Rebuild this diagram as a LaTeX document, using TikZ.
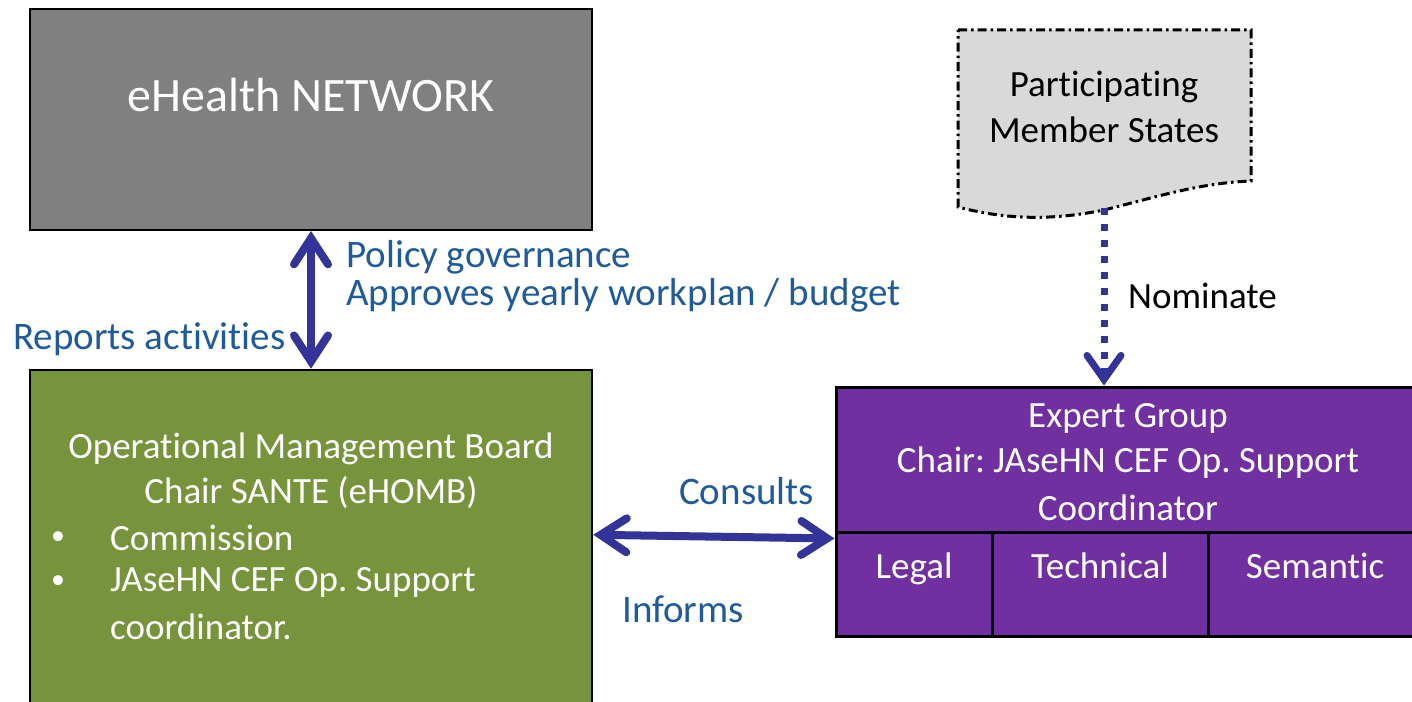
\documentclass[tikz,border=0pt]{standalone}
\usepackage{fontspec}
\setmainfont{Carlito}[Ligatures=NoCommon]
\frenchspacing
\usetikzlibrary{arrows.meta}

\definecolor{netgrey}{RGB}{128,128,128}
\definecolor{boardgreen}{RGB}{119,147,60}
\definecolor{expertpurple}{RGB}{112,48,160}
\definecolor{docgrey}{RGB}{217,217,217}
\definecolor{arrowblue}{RGB}{51,51,153}
\definecolor{labelblue}{RGB}{31,90,155}

\tikzset{
  box/.style={draw=black, rectangle, inner sep=0pt},
  boxtext/.style={text=white, inner sep=0pt, font=\fontsize{37}{44}\selectfont},
  bulletmark/.style={text=white, inner sep=0pt, font=\fontsize{28}{34}\selectfont},
  bluelabel/.style={text=labelblue, inner sep=0pt, anchor=west, font=\fontsize{39}{46}\selectfont},
  twoway/.style={draw=arrowblue, line width=8pt, {Straight Barb[length=26pt, width=34pt, line cap=round, line join=miter]}-{Straight Barb[length=26pt, width=34pt, line cap=round, line join=miter]}},
  nominatearrow/.style={draw=arrowblue, line width=7pt, dash pattern=on 7pt off 9pt, -{Straight Barb[length=24pt, width=34pt, line cap=round, line join=miter]}}
}

\begin{document}
\begin{tikzpicture}[x=1pt, y=-1pt]
\useasboundingbox (0,0) rectangle (1412,701);
\clip (0,0) rectangle (1412,701);

% eHealth network
\node[box, fill=netgrey, line width=2pt, minimum width=562pt, minimum height=221pt] (network) at (311,119.5) {};
\node[text=white, inner sep=0pt, font=\fontsize{48}{56}\selectfont] (networktext) at (311,95) {eHealth NETWORK};

% Operational management board
\node[box, fill=boardgreen, line width=2.5pt, minimum width=562pt, minimum height=360pt] (board) at (311,550) {};
\node[boxtext] (boardl1) at (311,449) {Operational Management Board};
\node[boxtext] (boardl2) at (311,493) {Chair SANTE (eHOMB)};
\node[bulletmark] (bul1) at (58,538) {•};
\node[boxtext, anchor=west] (boardl3) at (110,538) {Commission};
\node[bulletmark] (bul2) at (58,582) {•};
\node[boxtext, anchor=west] (boardl4) at (110,582) {JAseHN CEF Op. Support};
\node[boxtext, anchor=west] (boardl5) at (110,627) {coordinator.};

% Expert group with its three sub-groups
\node[box, fill=expertpurple, line width=3pt, minimum width=584pt, minimum height=249pt] (expert) at (1128,511.5) {};
\draw[line width=3pt] (expert.west |- 0,532) coordinate (rowl) -- (expert.east |- 0,532) coordinate (rowr);
\draw[line width=3pt] (992,532) coordinate (div1t) -- (div1t |- expert.south);
\draw[line width=3pt] (1208,532) coordinate (div2t) -- (div2t |- expert.south);
\node[boxtext] (expertl1) at (1128,418) {Expert Group};
\node[boxtext] (expertl2) at (1128,463) {Chair: JAseHN CEF Op. Support};
\node[boxtext] (expertl3) at (1128,508) {Coordinator};
\node[boxtext, anchor=base] (legal) at (914,578) {Legal};
\node[boxtext, anchor=base] (technical) at (1100,578) {Technical};
\node[boxtext, anchor=base] (semantic) at (1315,578) {Semantic};

% Participating member states (document shape)
\draw[fill=docgrey, line width=3pt, dash pattern=on 9pt off 4pt on 2.5pt off 4pt]
  (958,30) -- (1251,30) -- (1251,181)
  .. controls (1200,183) and (1160,196) .. (1104,210)
  .. controls (1045,222) and (1000,218) .. (958,207) -- cycle;
\coordinate (docbottom) at (1104,208);
\node[inner sep=0pt, font=\fontsize{37}{44}\selectfont] (members1) at (1104,87) {Participating};
\node[inner sep=0pt, font=\fontsize{37}{44}\selectfont] (members2) at (1104,130) {Member States};

% Connectors
\draw[twoway] (network.south) -- (board.north);
\draw[twoway] ([yshift=-166pt]board.north east) -- ([yshift=-153pt]expert.north west);
\draw[nominatearrow] (docbottom) -- (docbottom |- expert.north);

% Connector labels
\node[bluelabel] (policy1) at (346,257) {Policy governance};
\node[bluelabel] (policy2) at (346,295) {Approves yearly workplan / budget};
\node[bluelabel] (reports) at (13,339) {Reports activities};
\node[bluelabel] (consults) at (679,491) {Consults};
\node[bluelabel] (informs) at (622,609) {Informs};
\node[inner sep=0pt, anchor=west, font=\fontsize{37}{44}\selectfont] (nominate) at (1128,296) {Nominate};
\end{tikzpicture}
\end{document}
